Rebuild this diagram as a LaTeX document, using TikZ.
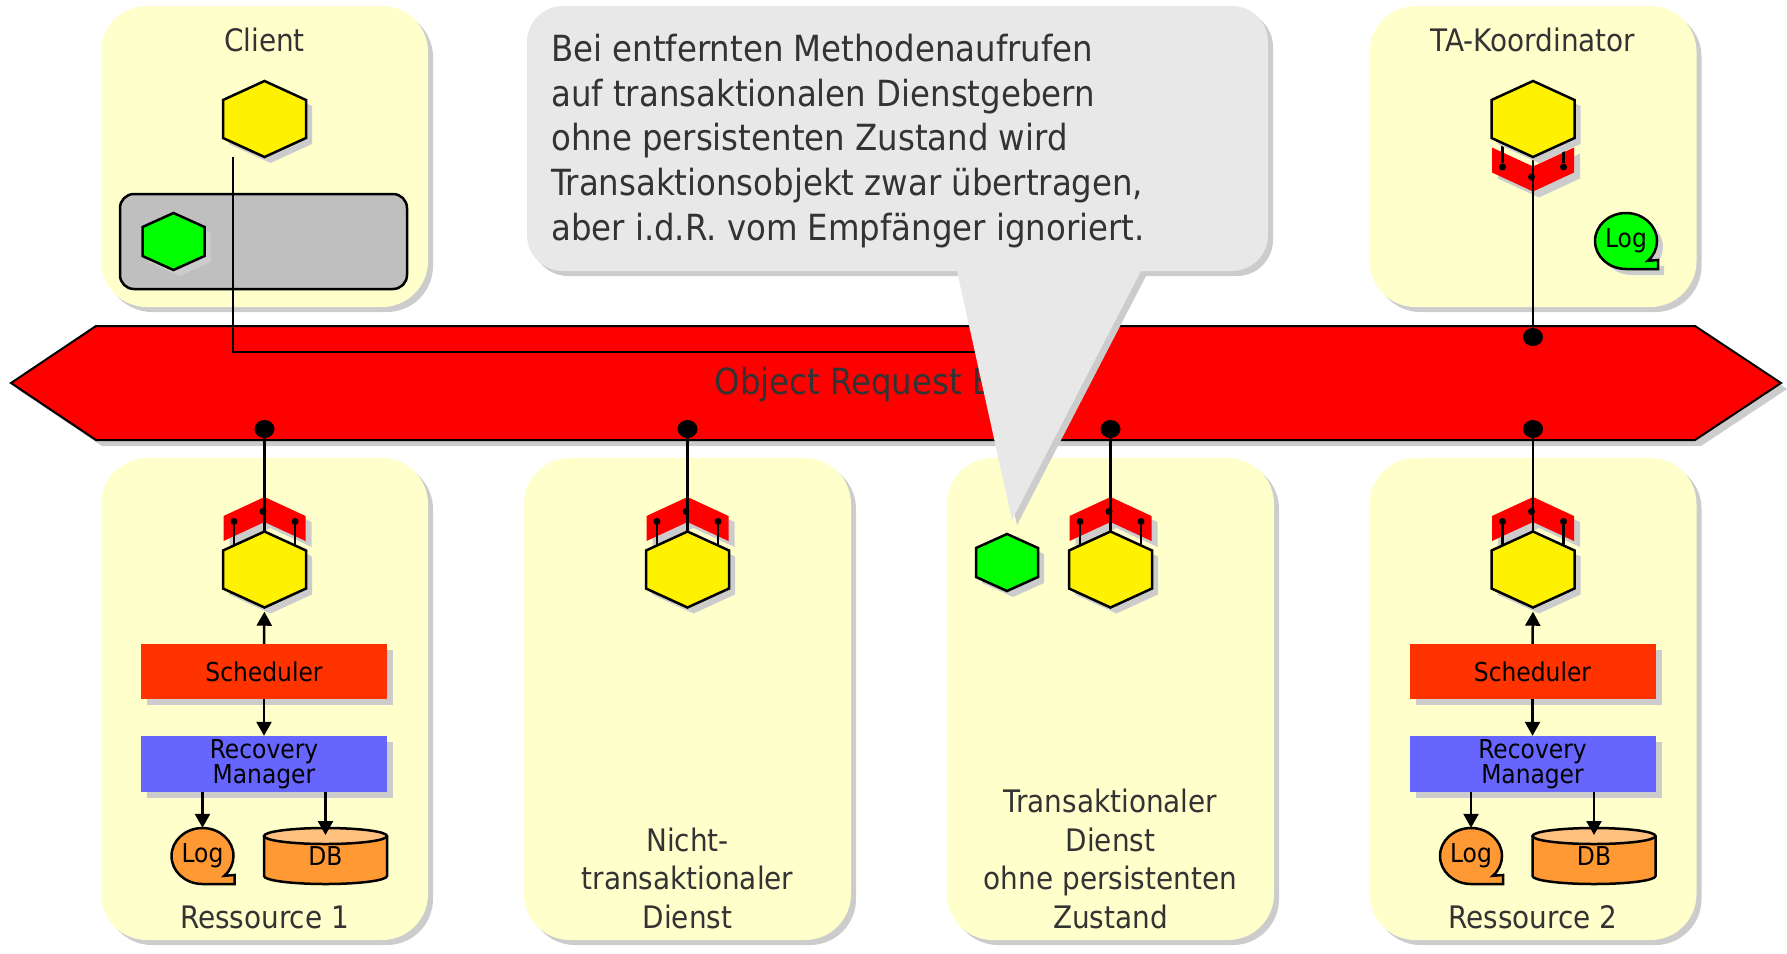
\documentclass[tikz,border=0pt]{standalone}
\usepackage{fontspec}
\setmainfont{DejaVu Sans Condensed}
\usetikzlibrary{arrows.meta,shadows,shapes.geometric,calc}
\definecolor{cream}{HTML}{FFFFCC}
\definecolor{shadowgray}{HTML}{CCCCCC}
\definecolor{labelgray}{HTML}{333333}
\definecolor{schedcol}{HTML}{FF3300}
\definecolor{recovcol}{HTML}{6666FF}
\definecolor{storecol}{HTML}{FF9933}
\definecolor{storetop}{HTML}{FFC080}
\definecolor{bubblecol}{HTML}{E8E8E8}
\tikzset{
    shade5/.style={drop shadow={shadow xshift=5pt,shadow yshift=-5pt,fill=shadowgray,opacity=1}},
    shade6/.style={drop shadow={shadow xshift=6pt,shadow yshift=-6pt,fill=shadowgray,opacity=1}},
    groupbox/.style={shape=rectangle,rounded corners=46pt,fill=cream,shade5,minimum width=327pt,inner sep=0pt},
    hexline/.style={draw=black,line width=2.5pt,line join=miter,shade6},
    hole/.style={shape=rectangle,inner sep=0pt},
    wire/.style={draw=black,line width=2.5pt},
    arrow/.style={wire,-{Triangle[length=14pt,width=15pt]}},
    bigdot/.style={shape=ellipse,fill=black,minimum width=20pt,minimum height=18pt,inner sep=0pt},
    smalldot/.style={shape=circle,fill=black,minimum size=7pt,inner sep=0pt},
    layerbox/.style={shape=rectangle,minimum width=246pt,inner sep=0pt,shade6,font=\fontsize{26}{25}\selectfont,align=center},
    smalltext/.style={font=\fontsize{26}{25}\selectfont,text=black},
    grouptext/.style={font=\fontsize{31}{38.5}\selectfont,text=labelgray,align=center},
}
\newcommand{\yellowhex}[3]{
    \draw[hexline,fill=yellow,shift={(#2,#3)}] (-41.5,-19) -- (0,-38) -- (41.5,-19) -- (41.5,19) -- (0,38) -- (-41.5,19) -- cycle;
    \node[hole,minimum width=83pt,minimum height=76pt] (#1) at (#2,#3) {};
}
\newcommand{\greenhex}[3]{
    \draw[hexline,fill=green,shift={(#2,#3)}] (-31,-14.5) -- (0,-28.5) -- (31,-14.5) -- (31,14.5) -- (0,28.5) -- (-31,14.5) -- cycle;
    \node[hole,minimum width=62pt,minimum height=57pt] (#1) at (#2,#3) {};
}
\newcommand{\orbstub}[4]{
    \fill[red,shade6,shift={(#2,#3)},yscale=#4] (-41,-53.5) -- (0,-72.5) -- (41,-53.5) -- (41,-28.5) -- (0,-47.5) -- (-41,-28.5) -- cycle;
    \node[smalldot] (#1l) at ($(#2,#3)+(-30.5,-48*#4)$) {};
    \node[smalldot] (#1m) at ($(#2,#3)+(-1.5,-58*#4)$) {};
    \node[smalldot] (#1r) at ($(#2,#3)+(30.5,-48*#4)$) {};
    \coordinate (#1le) at ($(#2,#3)+(-30.5,-24*#4)$);
    \coordinate (#1re) at ($(#2,#3)+(30.5,-24*#4)$);
    \draw[wire] (#1l) -- (#1le);
    \draw[wire] (#1r) -- (#1re);
}
\newcommand{\lognode}[5]{
    \draw[line width=2.5pt,fill=#4,shift={(#2,#3)},#5] (0,28) arc[start angle=270,end angle=-45,x radius=31pt,y radius=28pt] -- (32,19) -- (32,28) -- cycle;
    \node[hole,smalltext,minimum width=62pt,minimum height=56pt] (#1) at (#2,#3) {Log};
}
\newcommand{\dbnode}[3]{
    \draw[line width=2.5pt,fill=storecol,shift={(#2,#3)}] (-61.5,-20) -- (-61.5,20) arc[start angle=180,end angle=360,x radius=61.5pt,y radius=8pt] -- (61.5,-20);
    \draw[line width=2.5pt,fill=storetop,shift={(#2,#3)}] (0,-20) ellipse[x radius=61.5pt,y radius=8pt];
    \node[hole,smalltext,minimum width=123pt,minimum height=56pt] (#1) at (#2,#3) {DB};
}
\begin{document}
\begin{tikzpicture}[x=1pt,y=-1pt]
            \useasboundingbox (0,0) rectangle (1787,953);
            \node[groupbox,minimum height=301pt] (clientbox) at (264.5,156.5) {};
            \node[groupbox,minimum height=301pt] (coordbox) at (1533,156.5) {};
            \node[groupbox,minimum height=482pt] (resabox) at (264.5,699) {};
            \node[groupbox,minimum height=482pt] (plainbox) at (687.5,699) {};
            \node[groupbox,minimum height=482pt] (statebox) at (1110.5,699) {};
            \node[groupbox,minimum height=482pt] (resbbox) at (1533,699) {};
            \node[grouptext] (clienttext) at (264.5,40) {Client};
            \node[grouptext] (coordtext) at (1533,40) {TA-Koordinator};
            \node[grouptext] (resatext) at (264.5,917) {Ressource 1};
            \node[grouptext] (resbtext) at (1533,917) {Ressource 2};
            \node[grouptext] (plaintext) at (687.5,878) {Nicht-\\transaktionaler\\Dienst};
            \node[grouptext] (statetext) at (1110.5,859) {Transaktionaler\\Dienst\\ohne persistenten\\Zustand};
            \draw[line width=2pt,fill=red,shade6] (11,383) -- (96,326) -- (1695,326) -- (1781,383) -- (1695,440) -- (96,440) -- cycle;
            \node[font=\fontsize{36}{40}\selectfont,text=labelgray] (orb) at (896,385) {Object Request Broker};
            \node[bigdot] (dotc) at (1533,337) {};
            \node[bigdot] (dotres) at (264.5,429) {};
            \node[bigdot] (dotplain) at (687.5,429) {};
            \node[bigdot] (dotstate) at (1110.5,429) {};
            \node[bigdot] (dotresb) at (1533,429) {};
            \node[shape=rectangle,draw=black,line width=2.5pt,fill=lightgray,rounded corners=14pt,minimum width=287pt,minimum height=95pt,inner sep=0pt] (clientctx) at (263.5,241.5) {};
            \greenhex{clientobj}{173.5}{241.5}
            \yellowhex{client}{264.5}{119}
            \coordinate (clientout) at (233,157);
            \coordinate (clientend) at (1000,352);
            \draw[wire] (clientout) |- (clientend);
            \orbstub{coordstub}{1533}{119}{-1}
            \coordinate (coordout) at (1533,157);
            \draw[wire] (dotc) -- (coordout);
            \yellowhex{coord}{1533}{119}
            \lognode{coordlog}{1626}{241}{green}{shade6}
            \orbstub{resastub}{264.5}{569.5}{1}
            \yellowhex{resa}{264.5}{569.5}
            \draw[wire] (dotres) -- (resa.north);
            \orbstub{plainstub}{687.5}{569.5}{1}
            \yellowhex{plain}{687.5}{569.5}
            \draw[wire] (dotplain) -- (plain.north);
            \orbstub{statestub}{1110.5}{569.5}{1}
            \yellowhex{state}{1110.5}{569.5}
            \draw[wire] (dotstate) -- (state.north);
            \greenhex{stateobj}{1007}{562.5}
            \orbstub{resbstub}{1533}{569.5}{1}
            \yellowhex{resb}{1533}{569.5}
            \draw[wire] (dotresb) -- (resb.north);
            \node[layerbox,fill=schedcol,minimum height=55pt] (scheda) at (264,671.5) {Scheduler};
            \node[layerbox,fill=recovcol,minimum height=56pt] (recova) at (264,764) {Recovery\\Manager};
            \lognode{loga}{202.5}{856}{storecol}{}
            \dbnode{dba}{325.5}{856}
            \draw[arrow,{Triangle[length=14pt,width=15pt]}-,shorten <=4pt] (resa.south) -- (scheda.north);
            \draw[arrow] (scheda.south) -- (recova.north);
            \draw[arrow] (loga.north|-recova.south) -- (loga.north);
            \draw[arrow] (dba.north|-recova.south) -- (325.5,835);
            \node[layerbox,fill=schedcol,minimum height=55pt] (schedb) at (1532.5,671.5) {Scheduler};
            \node[layerbox,fill=recovcol,minimum height=56pt] (recovb) at (1532.5,764) {Recovery\\Manager};
            \lognode{logb}{1471}{856}{storecol}{}
            \dbnode{dbb}{1594}{856}
            \draw[arrow,{Triangle[length=14pt,width=15pt]}-,shorten <=4pt] (resb.south) -- (schedb.north);
            \draw[arrow] (schedb.south) -- (recovb.north);
            \draw[arrow] (logb.north|-recovb.south) -- (logb.north);
            \draw[arrow] (dbb.north|-recovb.south) -- (1594,835);
            \fill[bubblecol,shade5] (527,140) [rounded corners=36pt] -- (527,6) -- (1268,6) -- (1268,271) [sharp corners] -- (1141,271) -- (1012,520) -- (957,271) [rounded corners=36pt] -- (527,271) -- cycle;
            \node[anchor=west,align=left,inner sep=0pt,text=labelgray,font=\fontsize{36}{44.8}\selectfont] (note) at (551,141) {Bei entfernten Methodenaufrufen\\auf transaktionalen Dienstgebern\\ohne persistenten Zustand wird\\Transaktionsobjekt zwar übertragen,\\aber i.d.R. vom Empfänger ignoriert.};
        \end{tikzpicture}
\end{document}
